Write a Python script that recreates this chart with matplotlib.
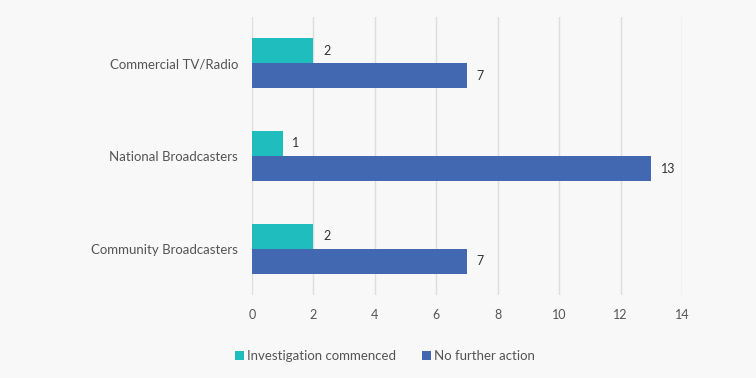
import matplotlib
matplotlib.use("Agg")
import matplotlib.pyplot as plt
import numpy as np

categories = ["Commercial TV/Radio", "National Broadcasters", "Community Broadcasters"]
series_names = ["Investigation commenced", "No further action"]
investigation = [2, 1, 2]
no_further = [7, 13, 7]
xticks = [0, 2, 4, 6, 8, 10, 12, 14]

colors = ["#1FBDBE", "#4268B2"]
bg = "#F8F8F8"
txt = "#555555"

plt.rcParams['font.family'] = ['Lato', 'DejaVu Sans']

fig = plt.figure(figsize=(7.56, 3.78), dpi=100, facecolor=bg)
ax = fig.add_axes([252/756, 1-295/378, 430/756, 278/378], facecolor=bg)

y = np.arange(len(categories))
h = 0.27
b1 = ax.barh(y - h/2, investigation, height=h, color=colors[0], label=series_names[0], zorder=3)
b2 = ax.barh(y + h/2, no_further, height=h, color=colors[1], label=series_names[1], zorder=3)

for bars, vals in ((b1, investigation), (b2, no_further)):
    for bar, v in zip(bars, vals):
        ax.annotate(str(v), (bar.get_width(), bar.get_y() + bar.get_height()/2),
                    xytext=(7, 0), textcoords="offset points", va="center", ha="left",
                    fontsize=9, color="#333333")

ax.set_ylim(2.5, -0.5)
ax.set_xlim(0, 14)
ax.set_xticks(xticks)
ax.set_xticklabels([str(t) for t in xticks])
ax.set_yticks(y)
ax.set_yticklabels(categories)
ax.tick_params(axis="x", length=0, pad=10, labelsize=9, colors=txt)
ax.tick_params(axis="y", length=0, pad=10, labelsize=9.5, colors=txt)
ax.grid(axis="x", color="#DDDDDD", linewidth=1, zorder=0)
for s in ax.spines.values():
    s.set_visible(False)

leg = fig.legend(handles=[b1, b2], labels=series_names, loc="center", bbox_to_anchor=(385/756, 1-356/378),
                 ncol=2, frameon=False, fontsize=9.5, handlelength=0.7, handleheight=0.7,
                 handletextpad=0.2, columnspacing=2.0)
for t in leg.get_texts():
    t.set_color(txt)

fig.savefig("out.png", dpi=100, facecolor=bg)
